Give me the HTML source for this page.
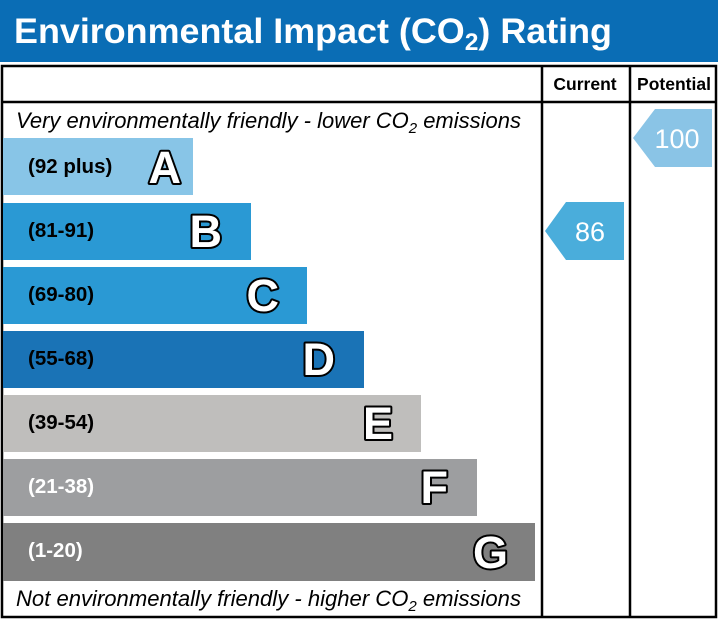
<!DOCTYPE html>
<html><head><style>body{margin:0;background:#fff}svg{display:block}.L{paint-order:stroke;stroke:#000;stroke-width:4;stroke-linejoin:round;fill:#fff;font-size:45px;font-weight:bold}</style></head><body>
<svg width="718" height="619" xmlns="http://www.w3.org/2000/svg" font-family="Liberation Sans, Arial, sans-serif">
<rect x="0" y="0" width="718" height="62" fill="#0a6db5"/>
<text x="14" y="43" font-size="35" font-weight="bold" fill="#fff" textLength="598" lengthAdjust="spacingAndGlyphs">Environmental Impact (CO<tspan font-size="24" dy="7">2</tspan><tspan dy="-7">) Rating</tspan></text>
<rect x="2" y="66" width="714" height="551" fill="none" stroke="#000" stroke-width="2.5"/>
<line x1="2" y1="102" x2="716" y2="102" stroke="#000" stroke-width="2.5"/>
<line x1="542" y1="66" x2="542" y2="617" stroke="#000" stroke-width="2.5"/>
<line x1="630" y1="66" x2="630" y2="617" stroke="#000" stroke-width="2.5"/>
<text x="585" y="90" font-size="17.5" font-weight="bold" text-anchor="middle">Current</text>
<text x="674" y="90" font-size="17.5" font-weight="bold" text-anchor="middle">Potential</text>
<text x="16" y="128" font-size="22" font-style="italic" textLength="505" lengthAdjust="spacingAndGlyphs">Very environmentally friendly - lower CO<tspan font-size="15" dy="5">2</tspan><tspan dy="-5"> emissions</tspan></text>
<text x="16" y="606" font-size="22" font-style="italic" textLength="505" lengthAdjust="spacingAndGlyphs">Not environmentally friendly - higher CO<tspan font-size="15" dy="5">2</tspan><tspan dy="-5"> emissions</tspan></text>
<g font-weight="bold" font-size="20.5">
<rect x="3" y="138" width="190" height="57" fill="#88c5e7"/>
<text x="28" y="173">(92 plus)</text>
<text x="181" y="183" text-anchor="end" class="L">A</text>
<rect x="3" y="203" width="248" height="57" fill="#2a99d4"/>
<text x="28" y="237">(81-91)</text>
<text x="222" y="247" text-anchor="end" class="L">B</text>
<rect x="3" y="267" width="304" height="57" fill="#2a99d4"/>
<text x="28" y="301">(69-80)</text>
<text x="279" y="311" text-anchor="end" class="L">C</text>
<rect x="3" y="331" width="361" height="57" fill="#1a73b6"/>
<text x="28" y="365">(55-68)</text>
<text x="335" y="375" text-anchor="end" class="L">D</text>
<rect x="3" y="395" width="418" height="57" fill="#bfbebc"/>
<text x="28" y="429">(39-54)</text>
<text x="393" y="439" text-anchor="end" class="L">E</text>
<rect x="3" y="459" width="474" height="57" fill="#9d9ea0"/>
<text x="28" y="493" fill="#fff">(21-38)</text>
<text x="448" y="503" text-anchor="end" class="L">F</text>
<rect x="3" y="523" width="532" height="58" fill="#808080"/>
<text x="28" y="557" fill="#fff">(1-20)</text>
<text x="508" y="568" text-anchor="end" class="L">G</text>
</g>
<polygon points="545,231 566,202 624,202 624,260 566,260" fill="#4aaddb"/>
<text x="590" y="241" font-size="27" fill="#fff" text-anchor="middle">86</text>
<polygon points="633,138 655,109 712,109 712,167 655,167" fill="#8ac4e6"/>
<text x="677" y="148" font-size="27" fill="#fff" text-anchor="middle">100</text>
</svg>
</body></html>
